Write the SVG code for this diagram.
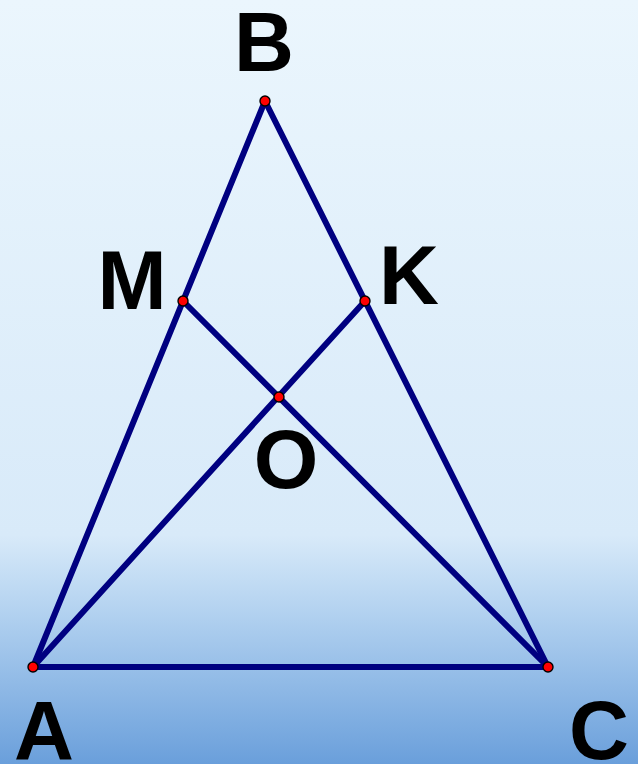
<svg xmlns="http://www.w3.org/2000/svg" width="638" height="764" viewBox="0 0 638 764">
<defs>
<linearGradient id="bg" x1="0" y1="0" x2="0" y2="1">
<stop offset="0" stop-color="#ebf6fd"/>
<stop offset="0.7" stop-color="#d8eaf9"/>
<stop offset="0.8" stop-color="#b3d2f0"/>
<stop offset="1" stop-color="#6a9fdb"/>
</linearGradient>
<style>
.seg{stroke:#000080;stroke-width:6;stroke-linecap:round;fill:none}
.pt{fill:#ff0000;stroke:#000;stroke-width:1.4}
.lbl{font-family:"Liberation Sans",Arial,sans-serif;font-weight:bold;font-size:83px;fill:#000;text-anchor:middle}
</style>
</defs>
<rect width="638" height="764" fill="url(#bg)"/>
<g id="connectors">
<line class="seg" x1="33" y1="667" x2="265" y2="101"/>
<line class="seg" x1="265" y1="101" x2="548" y2="667"/>
<line class="seg" x1="33" y1="667" x2="548" y2="667"/>
<line class="seg" x1="183" y1="301" x2="548" y2="667"/>
<line class="seg" x1="33" y1="667" x2="365" y2="301"/>
</g>
<g id="A"><circle class="pt" cx="33" cy="667" r="5"/><text class="lbl" x="44" y="760">A</text></g>
<g id="B"><circle class="pt" cx="265" cy="101" r="5"/><text class="lbl" x="264" y="71">B</text></g>
<g id="C"><circle class="pt" cx="548" cy="667" r="5"/><text class="lbl" x="599" y="759">C</text></g>
<g id="M"><circle class="pt" cx="183" cy="301" r="5"/><text class="lbl" x="132" y="309">M</text></g>
<g id="K"><circle class="pt" cx="365" cy="301" r="5"/><text class="lbl" x="409" y="304">K</text></g>
<g id="O"><circle class="pt" cx="279" cy="397" r="5"/><text class="lbl" x="286" y="488">O</text></g>
</svg>
